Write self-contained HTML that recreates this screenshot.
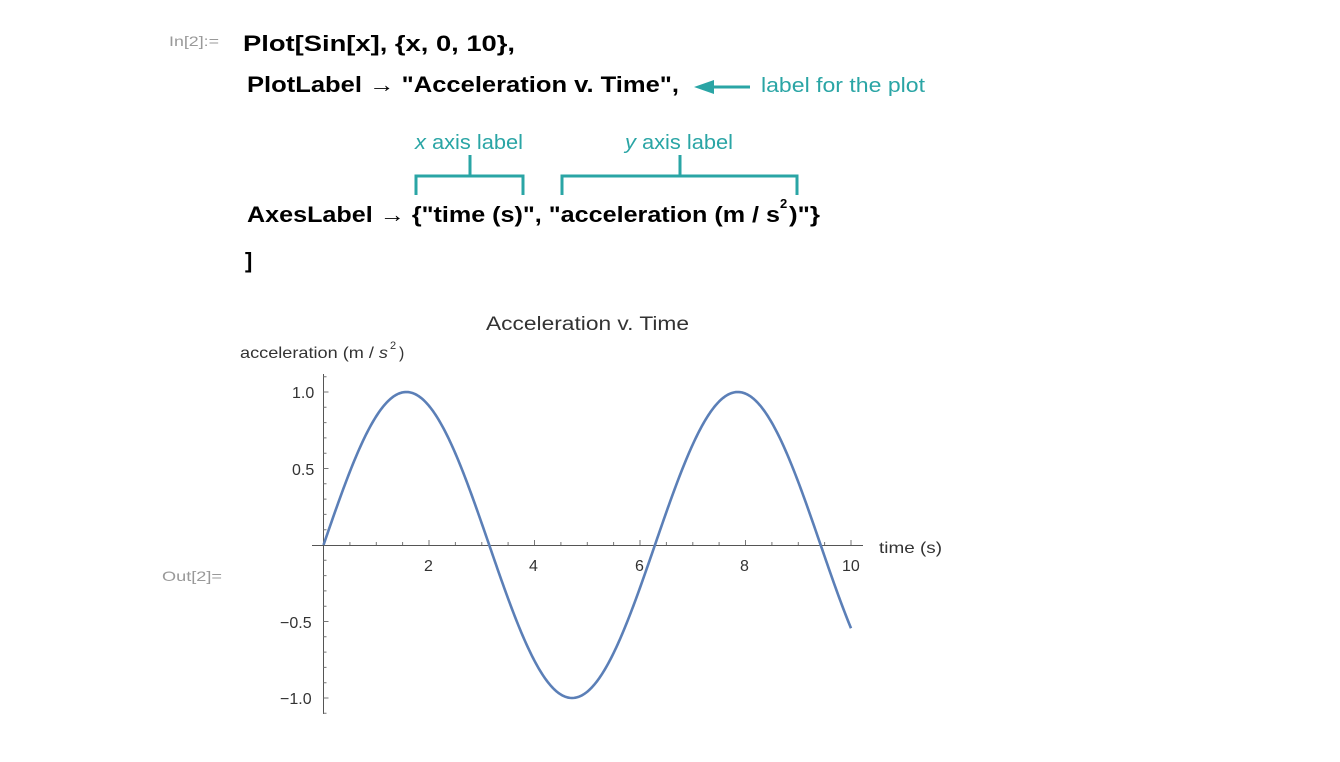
<!DOCTYPE html>
<html><head><meta charset="utf-8"><style>
html,body{margin:0;padding:0;background:#fff;}
svg{display:block;font-family:"Liberation Sans",sans-serif;}
</style></head><body>
<svg width="1340" height="762" viewBox="0 0 1340 762" xmlns="http://www.w3.org/2000/svg">
<g fill="#999" font-size="14">
<text x="169" y="46" textLength="50" lengthAdjust="spacingAndGlyphs">In[2]:=</text>
<text x="162" y="581" textLength="60" lengthAdjust="spacingAndGlyphs">Out[2]=</text>
</g>
<g fill="#000" font-size="22" font-weight="bold">
<text x="243" y="51" textLength="272" lengthAdjust="spacingAndGlyphs">Plot[Sin[x],  {x,  0,  10},</text>
<text x="247" y="92" textLength="432" lengthAdjust="spacingAndGlyphs">PlotLabel → "Acceleration v. Time",</text>
<text x="247" y="222" textLength="533" lengthAdjust="spacingAndGlyphs">AxesLabel → {"time (s)", "acceleration (m / s</text>
<text x="780" y="208" font-size="13">2</text>
<text x="789" y="222" textLength="31" lengthAdjust="spacingAndGlyphs">)"}</text>
<text x="245" y="268">]</text>
</g>
<g fill="#2aa5a5" font-size="20">
<text x="761" y="92" textLength="164" lengthAdjust="spacingAndGlyphs">label for the plot</text>
<text x="415" y="149" textLength="108" lengthAdjust="spacingAndGlyphs"><tspan font-style="italic">x</tspan> axis label</text>
<text x="625" y="149" textLength="108" lengthAdjust="spacingAndGlyphs"><tspan font-style="italic">y</tspan> axis label</text>
</g>
<g stroke="#2aa5a5" stroke-width="3" fill="none">
<line x1="712" y1="87" x2="750" y2="87"/>
<path d="M416 195V176H523V195M470 176V155"/>
<path d="M562 195V176H797V195M680 176V155"/>
</g>
<polygon points="694,87 714,80 714,94" fill="#2aa5a5"/>
<g fill="#333" font-size="19">
<text x="486" y="330" textLength="203" lengthAdjust="spacingAndGlyphs">Acceleration v. Time</text>
</g>
<g fill="#333" font-size="16">
<text x="240" y="358" textLength="148" lengthAdjust="spacingAndGlyphs">acceleration (m / <tspan font-style="italic">s</tspan></text>
<text x="390" y="349" font-size="11">2</text>
<text x="399" y="358">)</text>
<text x="879" y="553" textLength="63" lengthAdjust="spacingAndGlyphs">time (s)</text>
<text x="292" y="398">1.0</text>
<text x="292" y="475">0.5</text>
<text x="280" y="628">−0.5</text>
<text x="280" y="704">−1.0</text>
<text x="424" y="571">2</text>
<text x="529" y="571">4</text>
<text x="635" y="571">6</text>
<text x="740" y="571">8</text>
<text x="842" y="571">10</text>
</g>
<g stroke="#555" stroke-width="1">
<line x1="312" y1="545.5" x2="863" y2="545.5"/>
<line x1="323.5" y1="374" x2="323.5" y2="714"/>
</g>
<g stroke="#777" stroke-width="1">
<path d="M349.9 545v-3M376.3 545v-3M402.6 545v-3M429 545v-5M455.4 545v-3M481.8 545v-3M508.1 545v-3M534.5 545v-5M560.9 545v-3M587.3 545v-3M613.6 545v-3M640 545v-5M666.4 545v-3M692.8 545v-3M719.1 545v-3M745.5 545v-5M771.9 545v-3M798.3 545v-3M824.6 545v-3M851 545v-5"/>
<path d="M323.5 529.7h3M323.5 514.4h3M323.5 499.1h3M323.5 483.8h3M323.5 468.5h5M323.5 453.2h3M323.5 437.9h3M323.5 422.6h3M323.5 407.3h3M323.5 392h5M323.5 376.7h3M323.5 560.3h3M323.5 575.6h3M323.5 590.9h3M323.5 606.2h3M323.5 621.5h5M323.5 636.8h3M323.5 652.1h3M323.5 667.4h3M323.5 682.7h3M323.5 698h5M323.5 713.3h3"/>
</g>
<polyline id="curve" fill="none" stroke="#5b7fb7" stroke-width="2.6" stroke-linejoin="round"/>
<script>
var ox=323.5,oy=545,sx=52.75,sy=153;
var pts=[];for(var i=0;i<=400;i++){var t=i*10/400;pts.push((ox+t*sx).toFixed(2)+","+(oy-Math.sin(t)*sy).toFixed(2));}
document.getElementById('curve').setAttribute('points',pts.join(' '));
</script>
</svg>
</body></html>
